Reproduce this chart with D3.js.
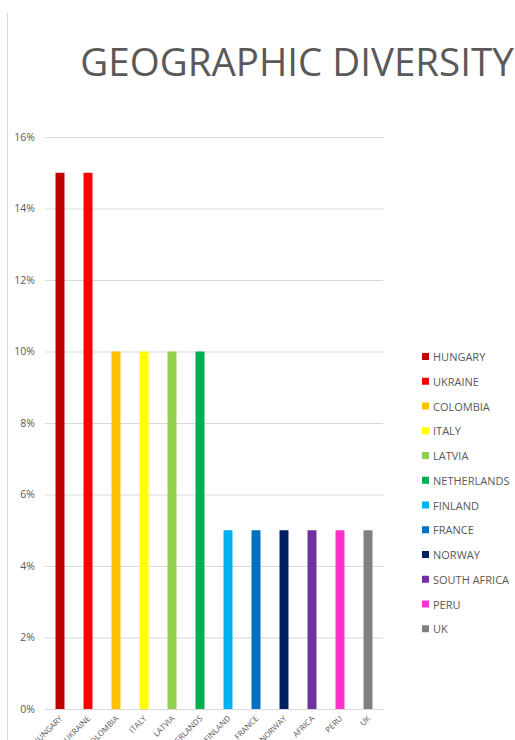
<!DOCTYPE html>
<html><head><meta charset="utf-8">
<script src="https://cdn.jsdelivr.net/npm/d3@7"></script>
<style>body{margin:0;background:#fff;overflow:hidden}svg{display:block}</style>
</head><body>
<svg id="c" width="515" height="740"></svg>
<script>
const categories = ["HUNGARY","UKRAINE","COLOMBIA","ITALY","LATVIA","NETHERLANDS","FINLAND","FRANCE","NORWAY","SOUTH AFRICA","PERU","UK"];
const xLabels = ["HUNGARY","UKRAINE","COLOMBIA","ITALY","LATVIA","NETHERLANDS","FINLAND","FRANCE","NORWAY","AFRICA","PERU","UK"];
const values = [0.15,0.15,0.10,0.10,0.10,0.10,0.05,0.05,0.05,0.05,0.05,0.05];
const colors = ["#C00000","#FF0000","#FFC000","#FFFF00","#92D050","#00B050","#00B0F0","#0070C0","#002060","#7030A0","#FF33CC","#808080"];
const yTicks = [0,0.02,0.04,0.06,0.08,0.10,0.12,0.14,0.16];
const title = "GEOGRAPHIC DIVERSITY";

const svg = d3.select("#c");
const font = "'Open Sans', 'Liberation Sans', sans-serif";
const grey = "#595959";

svg.append("line").attr("x1",7.5).attr("x2",7.5).attr("y1",13).attr("y2",740)
  .attr("stroke","#d9d9d9").attr("stroke-width",1);

svg.append("text").attr("x",297).attr("y",76).attr("text-anchor","middle")
  .attr("font-family",font).attr("font-size",38.5).attr("fill",grey).text(title);

const x = d3.scaleBand().domain(categories).range([46,382]).paddingInner(0.68).paddingOuter(0.34);
const y = d3.scaleLinear().domain([0,0.16]).range([709,137]);

const yAxis = d3.axisLeft(y).tickValues(yTicks).tickFormat(d3.format(".0%")).tickSize(-338).tickPadding(10);
const gy = svg.append("g").attr("transform","translate(45,0)").call(yAxis);
gy.select(".domain").remove();
gy.selectAll(".tick line").attr("stroke","#d9d9d9");
gy.selectAll(".tick text").attr("font-family",font).attr("font-size",10.5).attr("fill",grey);

svg.append("g").selectAll("rect").data(categories).join("rect")
  .attr("x",d=>x(d)).attr("width",x.bandwidth())
  .attr("y",(d,i)=>y(values[i])).attr("height",(d,i)=>y(0)-y(values[i]))
  .attr("fill",(d,i)=>colors[i]);

const xAxis = d3.axisBottom(x).tickSize(0).tickFormat((d,i)=>xLabels[i]);
const gx = svg.append("g").attr("transform","translate(0,709)").call(xAxis);
gx.select(".domain").attr("stroke","#d9d9d9").attr("d","M45,0.5H383");
gx.selectAll(".tick text").attr("font-family",font).attr("font-size",8).attr("fill",grey)
  .attr("text-anchor","end").attr("dy",0).attr("y",0)
  .attr("transform","translate(3,10) rotate(-45)");

const lg = svg.append("g").attr("transform","translate(422,357)");
const items = lg.selectAll("g").data(categories).join("g")
  .attr("transform",(d,i)=>`translate(0,${i*24.75})`);
items.append("rect").attr("x",0).attr("y",-4).attr("width",7).attr("height",7).attr("fill",(d,i)=>colors[i]);
items.append("text").attr("x",11).attr("y",4).attr("font-family",font).attr("font-size",11)
  .attr("fill",grey).text(d=>d);
</script>
</body></html>
